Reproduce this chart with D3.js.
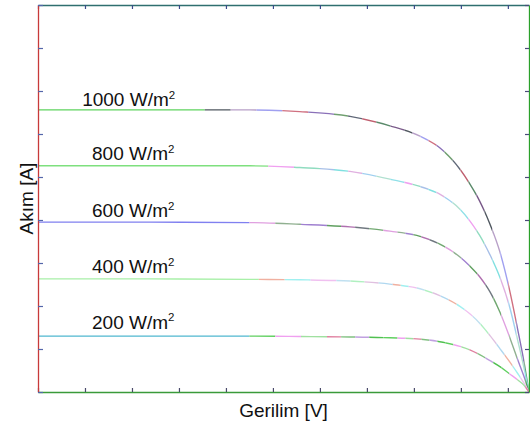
<!DOCTYPE html>
<html><head><meta charset="utf-8">
<script src="https://cdn.jsdelivr.net/npm/d3@7"></script>
<style>body{margin:0;background:#fff}svg{display:block}text{font-family:"Liberation Sans",Arial,sans-serif;fill:#111}</style>
</head><body>
<svg id="c" width="530" height="428"></svg>
<script>
// Data (voltage grid in V, currents in A)
const voltage = [0, 2.38, 4.51, 5.57, 6.64, 7.49, 8.13, 8.55, 8.98, 9.19, 9.40, 9.62, 9.83, 10.04, 10.21, 10.34, 10.45];
const irradiance = ["1000", "800", "600", "400", "200"];
const current1000 = [6.56, 6.56, 6.56, 6.52, 6.41, 6.19, 5.95, 5.68, 5.18, 4.84, 4.44, 3.90, 3.26, 2.35, 1.45, 0.72, 0];
const current800  = [5.26, 5.26, 5.26, 5.22, 5.13, 4.95, 4.78, 4.60, 4.25, 3.98, 3.64, 3.19, 2.67, 1.97, 1.20, 0.58, 0];
const current600  = [3.95, 3.95, 3.94, 3.90, 3.84, 3.74, 3.62, 3.44, 3.14, 2.93, 2.68, 2.33, 1.86, 1.27, 0.75, 0.37, 0];
const current400  = [2.63, 2.63, 2.62, 2.61, 2.58, 2.51, 2.40, 2.24, 1.99, 1.82, 1.60, 1.31, 1.01, 0.70, 0.43, 0.21, 0];
const current200  = [1.30, 1.30, 1.30, 1.29, 1.28, 1.26, 1.23, 1.17, 1.06, 0.98, 0.87, 0.73, 0.59, 0.42, 0.28, 0.16, 0];
const currents = [current1000, current800, current600, current400, current200];
const xTicks = d3.range(0, 11, 1);
const yTicks = d3.range(0, 10, 1);

// Styles
const firstColor = ["#5fd35f", "#7ee07e", "#8080f0", "#a8f0a8", "#50b8d0"];
const firstEnd   = [3.55, 4.9, 4.5, 4.7, 4.5];
const palettes = [
  ["#505860", "#b8a0c8", "#a0a0f0", "#d07080", "#8a70b8", "#70a070", "#606878", "#c06070", "#5a8a6a", "#7a5a8a"],
  ["#f0a0f0", "#90dcc0", "#a8c0e8", "#80e0e0", "#e0b0e0", "#a0d0f0", "#b0e0d0", "#90e0e8"],
  ["#e0a0e0", "#90b090", "#a080d0", "#60a060", "#b070b0", "#707880", "#70a870"],
  ["#f0b0a0", "#a0f0f0", "#f0c0f0", "#c0e0f0", "#b0f0c0", "#e0c0e0", "#b0d8f0"],
  ["#60d060", "#f0a0f0", "#a0e0a0", "#e080a0", "#80c080", "#c0a0e0", "#50c050"]
];
const labelV = [0.94, 1.15, 1.15, 1.15, 1.15];
const labelDy = [-3.5, -5.5, -5, -5.5, -7.5];

const L = 38, R = 529, T = 5, B = 392;
const svg = d3.select("#c");
const x = d3.scaleLinear().domain([0, 10.45]).range([L, R]);
const y = d3.scaleLinear().domain([0, 9]).range([B, T]);

const defs = svg.append("defs");
const line = d3.line().x(d => x(d[0])).y(d => y(d[1])).curve(d3.curveMonotoneX);

currents.forEach((cur, ci) => {
  const pts = voltage.map((v, i) => [v, cur[i]]);
  const bounds = [0, firstEnd[ci]];
  let v = firstEnd[ci];
  while (v < 10.6) { v += (v > 7.5 ? 0.17 : (v < 6 ? 0.55 : 0.3)); bounds.push(Math.min(v, 10.7)); }
  for (let s = 0; s < bounds.length - 1; s++) {
    const id = "cl" + ci + "_" + s;
    const x0 = x(bounds[s]) - (s === 0 ? 2 : 0), x1 = x(bounds[s + 1]) + (s === bounds.length - 2 ? 3 : 0);
    defs.append("clipPath").attr("id", id).append("rect")
      .attr("x", x0).attr("y", 0).attr("width", Math.max(0, x1 - x0)).attr("height", 428);
    const col = s === 0 ? firstColor[ci] : palettes[ci][(s - 1) % palettes[ci].length];
    svg.append("path").attr("d", line(pts)).attr("fill", "none")
      .attr("stroke", col).attr("stroke-width", 1.4).attr("clip-path", "url(#" + id + ")");
  }
});

// Axes
function styleAxis(g, col, tickCol) {
  g.select(".domain").attr("stroke", col).attr("stroke-width", 1.3);
  g.selectAll(".tick line").attr("stroke", tickCol).attr("stroke-width", 1.2);
  g.selectAll(".tick text").remove();
}
svg.append("g").attr("transform", `translate(0,${T})`)
  .call(d3.axisTop(x).tickValues(xTicks).tickSize(-4).tickSizeOuter(0).tickFormat(""))
  .call(g => styleAxis(g, "#2f6f6f", "#3a4a8a"));
svg.append("g").attr("transform", `translate(0,${B})`)
  .call(d3.axisBottom(x).tickValues(xTicks).tickSize(-4).tickSizeOuter(0).tickFormat(""))
  .call(g => styleAxis(g, "#3a9a3a", "#4a4a6a"));
svg.append("g").attr("transform", `translate(${L},0)`)
  .call(d3.axisLeft(y).tickValues(yTicks).tickSize(-5).tickSizeOuter(0).tickFormat(""))
  .call(g => styleAxis(g, "#c83a3a", "#5566aa"));
svg.append("g").attr("transform", `translate(${R},0)`)
  .call(d3.axisRight(y).tickValues(yTicks).tickSize(-4).tickSizeOuter(0).tickFormat(""))
  .call(g => styleAxis(g, "#2aa02a", "#4a4a7a"));

// Labels
irradiance.forEach((lab, i) => {
  const t = svg.append("text").attr("x", x(labelV[i])).attr("y", y(currents[i][0]) + labelDy[i])
    .attr("font-size", 19);
  t.append("tspan").text(lab + " W/m");
  t.append("tspan").attr("dy", -7.5).attr("font-size", 11.5).text("2");
});

svg.append("text").attr("x", (L + R) / 2).attr("y", 417).attr("text-anchor", "middle")
  .attr("font-size", 19).text("Gerilim [V]");
svg.append("text").attr("transform", `translate(32.5,${(T + B) / 2}) rotate(-90)`)
  .attr("text-anchor", "middle").attr("font-size", 19).text("Akım [A]");
</script>
</body></html>
